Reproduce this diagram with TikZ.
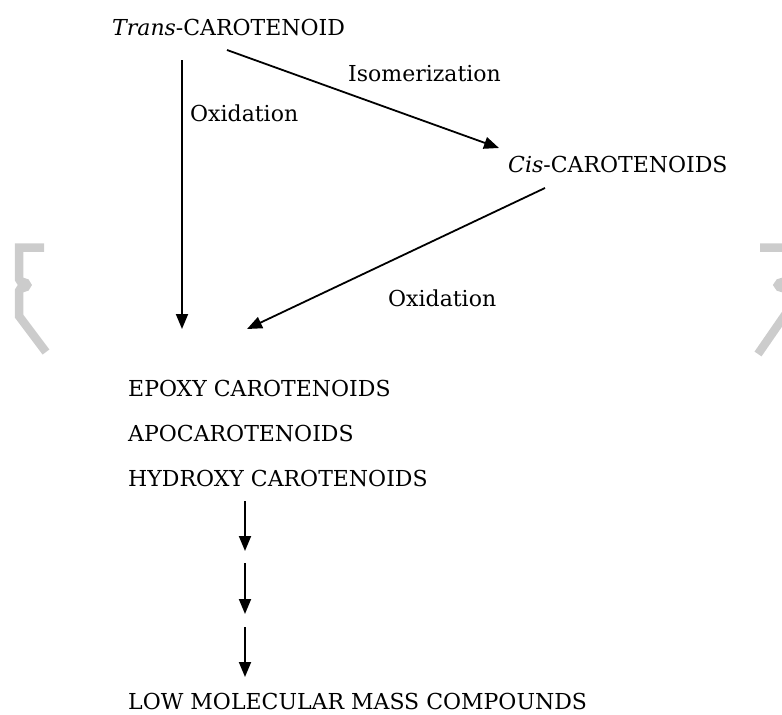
\documentclass[tikz,border=0pt]{standalone}
\usepackage{fontspec}
\setmainfont{DejaVu Serif}
\usetikzlibrary{arrows.meta}
\begin{document}
\begin{tikzpicture}[x=1pt,y=-1pt,
  lbl/.style={anchor=west,inner sep=0pt,font=\fontsize{22}{24}\selectfont},
  flow/.style={line width=1.8pt,-{Triangle[length=15pt,width=12pt]}},
  bracegray/.style={line width=8.5pt,draw=black!20,line join=miter}
]
\useasboundingbox (0,0) rectangle (782,715);
\begin{scope}
\clip (0,0) rectangle (782,715);
% faint bracket shapes at the sides
\draw[bracegray] (44,247.5) -- (19,247.5) -- (19,279)
  .. controls (19,283) and (27,281) .. (27,285)
  .. controls (27,289) and (19,287) .. (19,291) -- (19,316) -- (46,352);
\draw[bracegray] (760,247.5) -- (787,247.5) -- (787,279)
  .. controls (787,283) and (778,281) .. (778,285)
  .. controls (778,289) and (787,287) .. (787,291) -- (787,312) -- (758,354);
\end{scope}

% labels
\node[lbl] (trans) at (112,27) {\textit{Trans}-CAROTENOID};
\node[lbl] (cis) at (508,164) {\textit{Cis}-CAROTENOIDS};
\node[lbl] (prod1) at (128,388) {EPOXY CAROTENOIDS};
\node[lbl] (prod2) at (128,433) {APOCAROTENOIDS};
\node[lbl] (prod3) at (128,478) {HYDROXY CAROTENOIDS};
\node[lbl] (low) at (128,701) {LOW MOLECULAR MASS COMPOUNDS};

\node[lbl] (oxA) at (190,113) {Oxidation};
\node[lbl] (iso) at (348,74) {Isomerization};
\node[lbl] (oxB) at (388,298) {Oxidation};

% connector end points
\coordinate (tA) at (182,60);
\coordinate (tB) at (182,329);
\coordinate (iA) at (227,50);
\coordinate (iB) at (499,148);
\coordinate (cA) at (545,188);
\coordinate (cB) at (247,329);
\coordinate (s1) at (245,501);
\coordinate (s2) at (245,551);
\coordinate (s3) at (245,563);
\coordinate (s4) at (245,614);
\coordinate (s5) at (245,627);
\coordinate (s6) at (245,677);

\draw[flow] (tA) -- (tB);
\draw[flow] (iA) -- (iB);
\draw[flow] (cA) -- (cB);
\draw[flow] (s1) -- (s2);
\draw[flow] (s3) -- (s4);
\draw[flow] (s5) -- (s6);
\end{tikzpicture}
\end{document}
